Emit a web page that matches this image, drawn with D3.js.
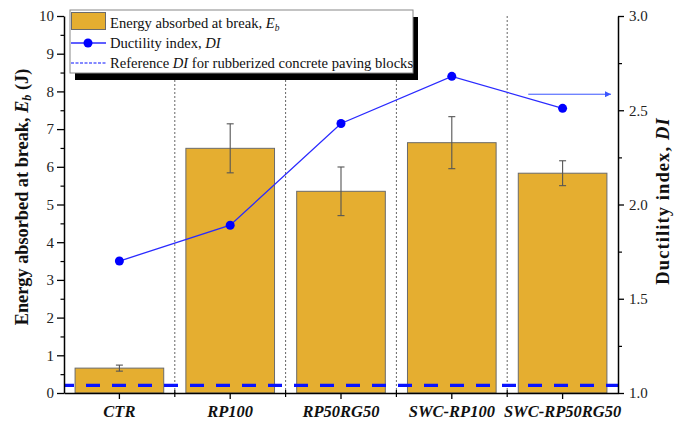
<!DOCTYPE html>
<html><head><meta charset="utf-8">
<script src="https://cdn.jsdelivr.net/npm/d3@7/dist/d3.min.js"></script>
<style>
body{margin:0;background:#fff;}
svg{display:block;font-family:"Liberation Serif","Times New Roman",serif;}
svg text{font-family:"Liberation Serif","Times New Roman",serif;}
</style></head>
<body>
<svg id="chart" width="683" height="422"></svg>
<script>
const categories = ["CTR","RP100","RP50RG50","SWC-RP100","SWC-RP50RG50"];
const energy = [0.66, 6.49, 5.35, 6.64, 5.83];
const energyErr = [0.08, 0.65, 0.645, 0.69, 0.33];
const ductility = [1.70, 1.89, 2.43, 2.68, 2.51];
const referenceDI = 1.04;
const leftTicks = [0,1,2,3,4,5,6,7,8,9,10];
const rightTicks = [1.0,1.5,2.0,2.5,3.0];

const W = 683, H = 422;
const m = {l:64, r:65, t:16, b:29};
const FONT = "'Liberation Serif','Times New Roman',serif";
const svg = d3.select("#chart");

const x = d3.scaleBand().domain(categories).range([m.l, W-m.r]).paddingInner(0.2).paddingOuter(0.1);
const yL = d3.scaleLinear().domain([0,10]).range([H-m.b, m.t]);
const yR = d3.scaleLinear().domain([1,3]).range([H-m.b, m.t]);
const step = x.step();
const cx = c => x(c) + x.bandwidth()/2;
const boundaries = categories.slice(1).map(c => x(c) - (step - x.bandwidth())/2);

// separators
svg.append("g").selectAll("line").data(boundaries).join("line")
  .attr("x1", d=>d).attr("x2", d=>d).attr("y1", m.t).attr("y2", H-m.b)
  .attr("stroke","#666").attr("stroke-width",1).attr("stroke-dasharray","2,2");

// bars
svg.append("g").selectAll("rect").data(categories).join("rect")
  .attr("x", c=>x(c)).attr("width", x.bandwidth())
  .attr("y", (c,i)=>yL(energy[i])).attr("height",(c,i)=>yL(0)-yL(energy[i]))
  .attr("fill","#E5AE30").attr("stroke","#6b6b6b").attr("stroke-width",1);

// error bars
const eg = svg.append("g").attr("stroke","#555").attr("stroke-width",1.1);
categories.forEach((c,i)=>{
  const xc = cx(c), top = yL(energy[i]+energyErr[i]), bot = yL(energy[i]-energyErr[i]);
  eg.append("line").attr("x1",xc).attr("x2",xc).attr("y1",top).attr("y2",bot);
  eg.append("line").attr("x1",xc-3.5).attr("x2",xc+3.5).attr("y1",top).attr("y2",top);
  eg.append("line").attr("x1",xc-3.5).attr("x2",xc+3.5).attr("y1",bot).attr("y2",bot);
});

// reference DI dashed line
svg.append("line").attr("x1", m.l).attr("x2", W-m.r)
  .attr("y1", yR(referenceDI)).attr("y2", yR(referenceDI))
  .attr("stroke","#0a14ff").attr("stroke-width",3.2)
  .attr("stroke-dasharray","14,12").attr("stroke-dashoffset",4);

// DI line
svg.append("path").datum(ductility)
  .attr("d", d3.line().x((d,i)=>cx(categories[i])).y(d=>yR(d)))
  .attr("fill","none").attr("stroke","#2a2aff").attr("stroke-width",1.3);
svg.append("g").selectAll("circle").data(ductility).join("circle")
  .attr("cx",(d,i)=>cx(categories[i])).attr("cy",d=>yR(d)).attr("r",4.5).attr("fill","#0000ff");

// arrow towards right axis
const defs = svg.append("defs");
defs.append("marker").attr("id","arr").attr("viewBox","0 0 10 10").attr("refX",10).attr("refY",5)
  .attr("markerWidth",9).attr("markerHeight",6).attr("markerUnits","userSpaceOnUse").attr("orient","auto")
  .append("path").attr("d","M0,0L10,5L0,10Z").attr("fill","#3a55ff");
const lastC = categories[categories.length-1];
svg.append("line").attr("x1", cx(lastC) - 0.31*step).attr("x2", W-m.r-7)
  .attr("y1", yR(2.585)).attr("y2", yR(2.585))
  .attr("stroke","#3a55ff").attr("stroke-width",1).attr("marker-end","url(#arr)");

// axes
function styleAxis(g){
  g.attr("font-family", FONT);
  g.select(".domain").attr("stroke","#000").attr("stroke-width",1.5);
  g.selectAll(".tick line").attr("stroke","#000").attr("stroke-width",1.3);
  g.selectAll("text").attr("fill","#222").style("font-family",FONT);
}
const gL = svg.append("g").attr("transform",`translate(${m.l},0)`)
  .call(d3.axisLeft(yL).tickValues(leftTicks).tickSize(7).tickSizeOuter(0).tickPadding(3).tickFormat(d3.format("d")));
styleAxis(gL); gL.selectAll("text").style("font-size","15px");
svg.append("g").attr("transform",`translate(${m.l},0)`)
  .call(d3.axisLeft(yL).tickValues(d3.range(0.5,10,1)).tickSize(3.5).tickFormat(""))
  .call(g=>{g.select(".domain").remove(); g.selectAll("line").attr("stroke","#000").attr("stroke-width",1.2);});

const gR = svg.append("g").attr("transform",`translate(${W-m.r},0)`)
  .call(d3.axisRight(yR).tickValues(rightTicks).tickSize(6).tickSizeOuter(0).tickPadding(5).tickFormat(d3.format(".1f")));
styleAxis(gR); gR.selectAll("text").style("font-size","15px");
svg.append("g").attr("transform",`translate(${W-m.r},0)`)
  .call(d3.axisRight(yR).tickValues(d3.range(1.25,3,0.5)).tickSize(4).tickFormat(""))
  .call(g=>{g.select(".domain").remove(); g.selectAll("line").attr("stroke","#000").attr("stroke-width",1.2);});

const gB = svg.append("g").attr("transform",`translate(0,${H-m.b})`)
  .call(d3.axisBottom(x).tickSize(6).tickSizeOuter(0).tickPadding(6));
styleAxis(gB);
gB.selectAll("text").style("font-size","16.5px").style("font-weight","bold").style("font-style","italic").attr("fill","#111");
svg.append("g").attr("transform",`translate(0,${H-m.b})`).selectAll("line").data(boundaries).join("line")
  .attr("x1",d=>d).attr("x2",d=>d).attr("y1",-3).attr("y2",4).attr("stroke","#000").attr("stroke-width",1.2);

// axis titles
const tl = svg.append("text").attr("transform",`translate(28,197) rotate(-90)`)
  .attr("text-anchor","middle").style("font-size","18.3px").style("font-weight","bold").attr("fill","#111");
tl.append("tspan").text("Energy absorbed at break, ");
tl.append("tspan").style("font-style","italic").text("E");
tl.append("tspan").style("font-style","italic").style("font-size","12px").attr("dy",3).text("b");
tl.append("tspan").attr("dy",-3).text(" (J)");

const tr = svg.append("text").attr("transform",`translate(669,201) rotate(-90)`)
  .attr("text-anchor","middle").style("font-size","18.5px").style("font-weight","bold").style("letter-spacing","1.1px").attr("fill","#111");
tr.append("tspan").text("Ductility index, ");
tr.append("tspan").style("font-style","italic").text("DI");

// legend
const lg = svg.append("g");
lg.append("rect").attr("x",75).attr("y",17).attr("width",343).attr("height",63).attr("fill","#000");
lg.append("rect").attr("x",70).attr("y",10).attr("width",343).attr("height",63).attr("fill","#fff").attr("stroke","#888").attr("stroke-width",1);
lg.append("rect").attr("x",71.5).attr("y",12.5).attr("width",34).attr("height",17).attr("fill","#E5AE30").attr("stroke","#6b6b6b");
lg.append("line").attr("x1",71).attr("x2",106).attr("y1",43).attr("y2",43).attr("stroke","#2a2aff").attr("stroke-width",1.3);
lg.append("circle").attr("cx",88).attr("cy",43).attr("r",4.5).attr("fill","#0000ff");
lg.append("line").attr("x1",71).attr("x2",106).attr("y1",63).attr("y2",63).attr("stroke","#0a14ff").attr("stroke-width",1.2).attr("stroke-dasharray","3,1.5");
const lt = (y)=> lg.append("text").attr("x",110).attr("y",y).style("font-size","14.6px").attr("fill","#111");
const t1 = lt(28); t1.append("tspan").text("Energy absorbed at break, ");
t1.append("tspan").style("font-style","italic").text("E");
t1.append("tspan").style("font-style","italic").style("font-size","9.5px").attr("dy",3).text("b");
const t2 = lt(48); t2.append("tspan").text("Ductility index, "); t2.append("tspan").style("font-style","italic").text("DI");
const t3 = lt(68); t3.append("tspan").text("Reference "); t3.append("tspan").style("font-style","italic").text("DI");
t3.append("tspan").text(" for rubberized concrete paving blocks");
</script>
</body></html>
